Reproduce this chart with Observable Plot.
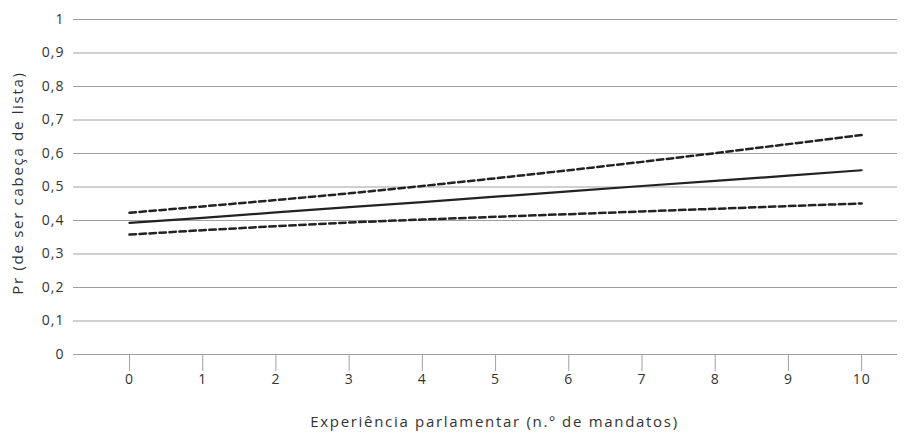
<!DOCTYPE html>
<html>
<head>
<meta charset="utf-8">
<script src="https://cdn.jsdelivr.net/npm/d3@7"></script>
<script src="https://cdn.jsdelivr.net/npm/@observablehq/plot@0.6"></script>
<style>
  body { margin: 0; background: #fff; }
  #chart svg { display: block; }
</style>
</head>
<body>
<div id="chart"></div>
<script>
const mandatos = [0, 1, 2, 3, 4, 5, 6, 7, 8, 9, 10];
const estimativa = [0.393, 0.408, 0.424, 0.440, 0.455, 0.471, 0.487, 0.503, 0.518, 0.534, 0.550];
const limiteSuperior = [0.423, 0.442, 0.461, 0.481, 0.503, 0.526, 0.550, 0.575, 0.601, 0.628, 0.655];
const limiteInferior = [0.358, 0.371, 0.383, 0.394, 0.403, 0.411, 0.419, 0.427, 0.435, 0.443, 0.451];
const yTicks = [0, 0.1, 0.2, 0.3, 0.4, 0.5, 0.6, 0.7, 0.8, 0.9, 1];
const xLabel = "Experiência parlamentar (n.º de mandatos)";
const yLabel = "Pr (de ser cabeça de lista)";

const rows = (vals) => mandatos.map((m, i) => ({x: m, y: vals[i]}));

const chart = Plot.plot({
  width: 909,
  height: 433,
  marginLeft: 73,
  marginRight: 12,
  marginTop: 19,
  marginBottom: 79,
  style: {fontFamily: "'Open Sans', sans-serif", fontSize: "14px", color: "#333", background: "#fff", letterSpacing: "1px"},
  x: {domain: [-0.765, 10.49]},
  y: {domain: [0, 1]},
  marks: [
    Plot.ruleY(yTicks, {stroke: "#a0a0a0", strokeWidth: 1}),
    Plot.axisY({ticks: yTicks, tickSize: 0, tickPadding: 9, fontSize: 14, tickFormat: d => String(d).replace(".", ","), label: null, fill: "#333"}),
    Plot.axisX({ticks: mandatos, tickSize: 17, tickPadding: 3, fontSize: 14, tickFormat: d => String(d), label: null, stroke: "#a0a0a0", fill: "#333"}),
    Plot.line(rows(limiteSuperior), {x: "x", y: "y", stroke: "#222", strokeWidth: 2.5, strokeDasharray: "6.5,3.5"}),
    Plot.line(rows(limiteInferior), {x: "x", y: "y", stroke: "#222", strokeWidth: 2.5, strokeDasharray: "6.5,3.5"}),
    Plot.line(rows(estimativa), {x: "x", y: "y", stroke: "#222", strokeWidth: 2.2}),
    Plot.text([xLabel], {frameAnchor: "bottom", textAnchor: "middle", dx: 9, dy: 72, text: d => d, fill: "#333", fontSize: 15}),
    Plot.text([yLabel], {frameAnchor: "left", textAnchor: "middle", dx: -55, dy: -4, rotate: -90, text: d => d, fill: "#333", fontSize: 15})
  ]
});
d3.select(chart).selectAll("g[aria-label=text] text").attr("letter-spacing", "1.7px");
document.getElementById("chart").appendChild(chart);
</script>
</body>
</html>
